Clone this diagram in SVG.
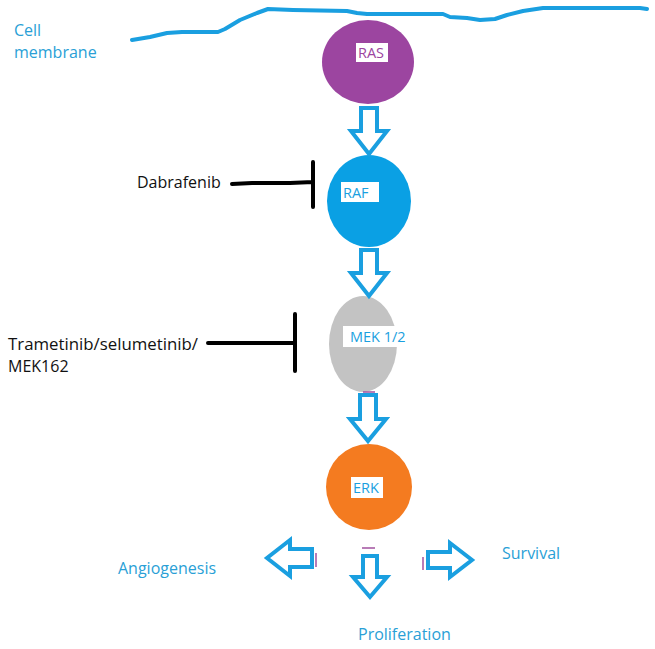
<svg xmlns="http://www.w3.org/2000/svg" width="655" height="649" viewBox="0 0 655 649">
<style>
.lbl{font-family:"Open Sans","Noto Sans",sans-serif;font-size:16px}
.blue{fill:#2a9fd6}
.blk{fill:#111}
.arr{fill:#fff;stroke:#1a9fe0;stroke-width:4;stroke-linejoin:miter}
.inh{fill:none;stroke:#000;stroke-width:4;stroke-linecap:round}
.box{fill:#fff}
.nl{font-family:"Open Sans","Noto Sans",sans-serif;font-size:14.5px}
.tick{stroke:#a0509f;stroke-width:1.5}
</style>
<rect width="655" height="649" fill="#fff"/>
<g id="membrane">
<polyline points="132,40 150,37 167,33 182,32 218,32 225,29 240,20 257,13 268,9 293,10 347,11 357,13 367,14 443,14 450,17 467,18 480,20 495,19 507,15 523,11 543,8 640,8 647,9" fill="none" stroke="#1a9fe0" stroke-width="4" stroke-linecap="round" stroke-linejoin="round"/>
<text class="lbl blue" x="14" y="36">Cell</text>
<text class="lbl blue" x="14" y="58">membrane</text>
</g>
<g id="RAS">
<ellipse cx="368" cy="62" rx="46" ry="42" fill="#9c45a0"/>
<rect class="box" x="356" y="43" width="32" height="19"/>
<text class="nl" x="358" y="58" fill="#9c45a0">RAS</text>
</g>
<g id="RAF">
<ellipse cx="369" cy="201" rx="42" ry="46" fill="#0aa0e4"/>
<rect class="box" x="341" y="182" width="38" height="20"/>
<text class="nl" x="343" y="198" fill="#1a9fe0">RAF</text>
</g>
<g id="MEK">
<ellipse cx="363" cy="344" rx="34" ry="48" fill="#c3c3c3"/>
<rect class="box" x="343" y="326" width="70" height="21"/>
<text class="nl" x="350" y="342" fill="#1a9fe0">MEK 1/2</text>
<line class="tick" x1="363" y1="392" x2="375" y2="392"/>
</g>
<g id="ERK">
<circle cx="369" cy="487" r="43" fill="#f47b20"/>
<rect class="box" x="351" y="477" width="32" height="21"/>
<text class="nl" x="353" y="493" fill="#1a9fe0">ERK</text>
</g>
<g id="Dabrafenib">
<text class="lbl blk" x="137" y="188">Dabrafenib</text>
</g>
<g id="MEKi">
<text class="lbl blk" x="8" y="350" textLength="190" lengthAdjust="spacingAndGlyphs">Trametinib/selumetinib/</text>
<text class="lbl blk" x="8" y="372">MEK162</text>
</g>
<g id="Angiogenesis"><text class="lbl blue" x="118" y="574">Angiogenesis</text></g>
<g id="Survival"><text class="lbl blue" x="502" y="559">Survival</text></g>
<g id="Proliferation"><text class="lbl blue" x="358" y="640">Proliferation</text></g>
<g id="connectors">
<path class="arr" d="M361,108 L377,108 L377,131 L387,131 L369,154 L351,131 L361,131 Z"/>
<path class="arr" d="M361,250 L377,250 L377,273 L387,273 L369,296 L351,273 L361,273 Z"/>
<path class="arr" d="M360,395 L376,395 L376,419 L386,419 L368,441 L350,419 L360,419 Z"/>
<path class="arr" d="M363,556 L377,556 L377,577 L387,577 L370,597 L353,577 L363,577 Z"/>
<path class="arr" d="M312,549 L312,567 L290,567 L290,576 L267,558 L290,540 L290,549 Z"/>
<path class="arr" d="M428,552 L428,568 L450,568 L450,577 L472,560 L450,543 L450,552 Z"/>
<line class="tick" x1="316" y1="553" x2="316" y2="567"/>
<line class="tick" x1="423" y1="557" x2="423" y2="570"/>
<line class="tick" x1="362" y1="548" x2="375" y2="548"/>
<path class="inh" d="M232,184 L252,183 L290,183 L313,182 M313,162 L313,207"/>
<path class="inh" d="M208,343 L295,343 M295,314 L295,371"/>
</g>
</svg>
